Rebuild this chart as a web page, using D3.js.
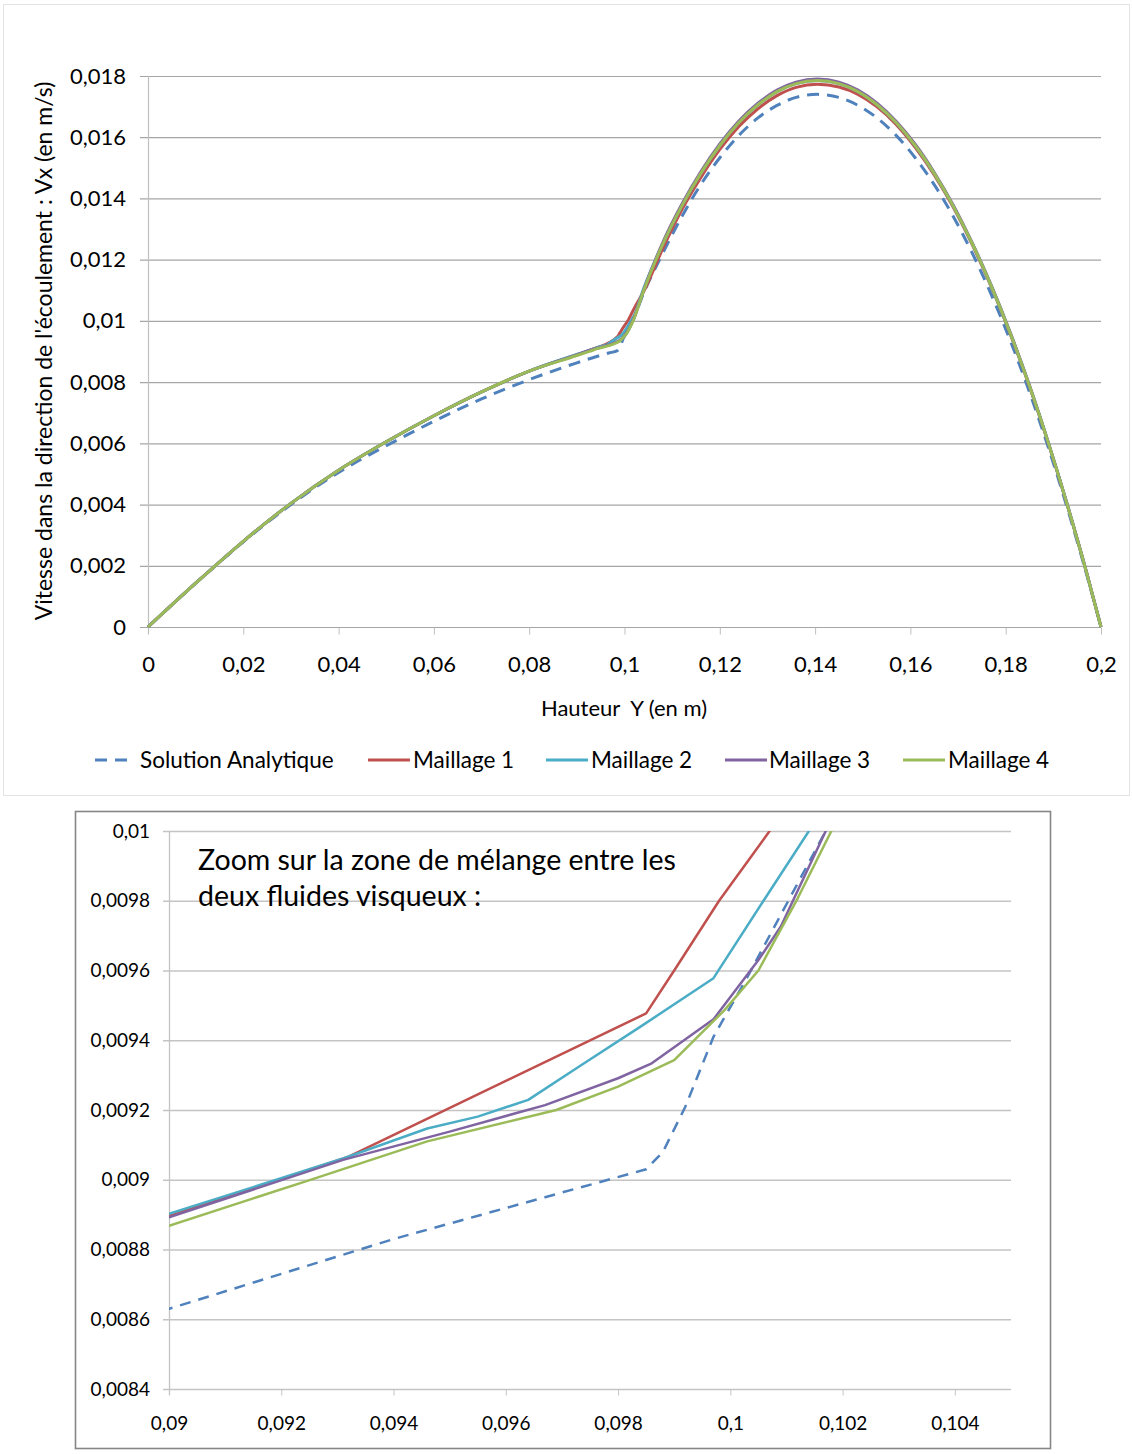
<!DOCTYPE html>
<html><head><meta charset="utf-8">
<script src="https://cdn.jsdelivr.net/npm/d3@7"></script>
<style>
body{margin:0;background:#fff;}
svg text{font-family:Lato,"Open Sans",sans-serif;fill:#000;}
</style></head><body>
<svg id="c" width="1132" height="1454"></svg>
<script>
// ---------- DATA ----------
const seriesNames = ["Solution Analytique","Maillage 1","Maillage 2","Maillage 3","Maillage 4"];
const seriesColors = ["#4F81BD","#C0504D","#4BACC6","#8064A2","#9BBB59"];

const topXTicks = [0,0.02,0.04,0.06,0.08,0.1,0.12,0.14,0.16,0.18,0.2];
const topXLabels = ["0","0,02","0,04","0,06","0,08","0,1","0,12","0,14","0,16","0,18","0,2"];
const topYTicks = [0,0.002,0.004,0.006,0.008,0.01,0.012,0.014,0.016,0.018];
const topYLabels = ["0","0,002","0,004","0,006","0,008","0,01","0,012","0,014","0,016","0,018"];

const zoomXTicks = [0.09,0.092,0.094,0.096,0.098,0.1,0.102,0.104];
const zoomXLabels = ["0,09","0,092","0,094","0,096","0,098","0,1","0,102","0,104"];
const zoomYTicks = [0.0084,0.0086,0.0088,0.009,0.0092,0.0094,0.0096,0.0098,0.01];
const zoomYLabels = ["0,0084","0,0086","0,0088","0,009","0,0092","0,0094","0,0096","0,0098","0,01"];

const analyticX = [0,0.01,0.02,0.03,0.04,0.05,0.06,0.07,0.08,0.09,0.094,0.0967,0.0985,0.0988,0.0992,0.0997,0.1003,0.1008,0.1017,0.104,0.108,0.112,0.116,0.12,0.124,0.128,0.132,0.136,0.1405,0.145,0.149,0.153,0.157,0.161,0.165,0.169,0.173,0.177,0.181,0.185,0.189,0.193,0.197,0.2];
const analyticV = [0,0.00143,0.00278,0.004,0.00505,0.00592,0.00672,0.00745,0.00808,0.00863,0.00883,0.00895,0.00903,0.00908,0.00921,0.00941,0.00958,0.00973,0.01,0.0109,0.0122,0.0134,0.01445,0.01533,0.01606,0.01663,0.01704,0.0173,0.0174,0.0173,0.01704,0.01663,0.01606,0.01533,0.01445,0.01341,0.01221,0.01085,0.00934,0.00767,0.00584,0.00385,0.00171,0];

const meshLowX = [0,0.01,0.02,0.03,0.04,0.05,0.06,0.07,0.08];
const meshLowV = [0,0.00143,0.0028,0.00404,0.00512,0.00605,0.0069,0.00768,0.00836];

const m1X = [0.09,0.0932,0.0985,0.099,0.0998,0.1007,0.102,0.104,0.108,0.112,0.116,0.12,0.124,0.128,0.132,0.136,0.1405,0.145,0.149,0.153,0.157,0.161,0.165,0.169,0.173,0.177,0.181,0.185,0.189,0.193,0.197,0.2];
const m1V = [0.008896,0.009066,0.009477,0.0096,0.0098,0.01,0.0104,0.01095,0.01235,0.01362,0.01468,0.0156,0.01635,0.01693,0.01736,0.01763,0.01773,0.01764,0.0174,0.01699,0.01642,0.01567,0.01477,0.01371,0.01248,0.0111,0.00955,0.00785,0.00598,0.00394,0.00176,0];

const m2X = [0.09,0.0931,0.0946,0.0955,0.0964,0.0973,0.0984,0.0997,0.1006,0.1014,0.102,0.104,0.108,0.112,0.116,0.12,0.124,0.128,0.132,0.136,0.1405,0.145,0.149,0.153,0.157,0.161,0.165,0.169,0.173,0.177,0.181,0.185,0.189,0.193,0.197,0.2];
const m2V = [0.008902,0.009061,0.009147,0.009181,0.009229,0.009324,0.009439,0.009578,0.009802,0.01,0.01016,0.01105,0.0125,0.01375,0.01482,0.01573,0.01648,0.01706,0.01749,0.01775,0.01785,0.01775,0.01749,0.01706,0.01648,0.01573,0.01482,0.01375,0.01252,0.01113,0.00958,0.00787,0.00599,0.00395,0.00176,0];

const m3X = [0.09,0.0931,0.095,0.0967,0.098,0.0986,0.0997,0.1005,0.1009,0.1017,0.102,0.104,0.108,0.112,0.116,0.12,0.124,0.128,0.132,0.136,0.1405,0.145,0.149,0.153,0.157,0.161,0.165,0.169,0.173,0.177,0.181,0.185,0.189,0.193,0.197,0.2];
const m3V = [0.008892,0.009057,0.009138,0.009214,0.009291,0.009334,0.00946,0.00963,0.009726,0.01,0.0101,0.011,0.01255,0.0138,0.01487,0.01578,0.01653,0.01711,0.01754,0.0178,0.0179,0.0178,0.01754,0.01711,0.01652,0.01577,0.01485,0.01378,0.01254,0.01115,0.0096,0.00789,0.006,0.00396,0.00177,0];

const m4X = [0.09,0.0926,0.0946,0.0969,0.098,0.099,0.0999,0.1005,0.1012,0.1018,0.104,0.108,0.112,0.116,0.12,0.124,0.128,0.132,0.136,0.1405,0.145,0.149,0.153,0.157,0.161,0.165,0.169,0.173,0.177,0.181,0.185,0.189,0.193,0.197,0.2];
const m4V = [0.008868,0.009004,0.00911,0.0092,0.009267,0.009343,0.009487,0.0096,0.009807,0.01,0.01098,0.0125,0.01375,0.01482,0.01573,0.01648,0.01706,0.01749,0.01775,0.01785,0.01775,0.01749,0.01706,0.01648,0.01573,0.01482,0.01375,0.01252,0.01113,0.00958,0.00787,0.00599,0.00395,0.00176,0];

// ---------- BUILD ----------
const zip = (xs, vs) => xs.map((x, i) => [x, vs[i]]);
const series = [
  zip(analyticX, analyticV),
  zip(meshLowX.concat(m1X), meshLowV.concat(m1V)),
  zip(meshLowX.concat(m2X), meshLowV.concat(m2V)),
  zip(meshLowX.concat(m3X), meshLowV.concat(m3V)),
  zip(meshLowX.concat(m4X), meshLowV.concat(m4V))
];

const svg = d3.select("#c");
svg.append("rect").attr("width",1132).attr("height",1454).attr("fill","#fff");
svg.append("rect").attr("x",3.5).attr("y",4.5).attr("width",1126).attr("height",791)
  .attr("fill","none").attr("stroke","#e3e3e3").attr("stroke-width",1);

function styleAxis(g, fs){
  g.attr("font-family",null).attr("font-size",fs);
  g.select(".domain").remove();
  g.selectAll(".tick line").attr("stroke","#a6a6a6");
  g.selectAll(".tick text").attr("fill","#000");
}

// ---------- TOP CHART ----------
const xT = d3.scaleLinear().domain([0,0.2]).range([148,1101]);
const yT = d3.scaleLinear().domain([0,0.018]).range([627,76]);
const gTop = svg.append("g");

gTop.append("g").selectAll("line").data(topYTicks).join("line")
  .attr("x1",140).attr("x2",xT(0.2)).attr("y1",d=>yT(d)+0.5).attr("y2",d=>yT(d)+0.5)
  .attr("stroke","#a6a6a6").attr("stroke-width",1.2);
gTop.append("line").attr("x1",xT(0)+0.5).attr("x2",xT(0)+0.5).attr("y1",yT(0.018)).attr("y2",yT(0)+7)
  .attr("stroke","#bfbfbf").attr("stroke-width",1.2);

const yAxT = gTop.append("g").attr("transform",`translate(${xT(0)},0)`)
  .call(d3.axisLeft(yT).tickValues(topYTicks).tickFormat((d,i)=>topYLabels[i]).tickSize(0).tickPadding(22));
styleAxis(yAxT, 22);
const xAxT = gTop.append("g").attr("transform",`translate(0,${yT(0)+0.5})`)
  .call(d3.axisBottom(xT).tickValues(topXTicks).tickFormat((d,i)=>topXLabels[i]).tickSize(7).tickPadding(22).tickSizeOuter(0));
styleAxis(xAxT, 22);
xAxT.selectAll(".tick line").attr("stroke","#bfbfbf");

const lineT = d3.line().x(d=>xT(d[0])).y(d=>yT(d[1])).curve(d3.curveMonotoneX);
series.forEach((s,i)=>{
  gTop.append("path").attr("d",lineT(s)).attr("fill","none")
    .attr("stroke",seriesColors[i]).attr("stroke-width",3)
    .attr("stroke-linejoin","round")
    .attr("stroke-dasharray", i===0 ? "12,8" : null);
});

gTop.append("text").attr("x",624).attr("y",716).attr("text-anchor","middle")
  .attr("font-size",22).style("white-space","pre").text("Hauteur  Y (en m)");
gTop.append("text").attr("transform","translate(52,351) rotate(-90)").attr("text-anchor","middle")
  .attr("font-size",23).text("Vitesse dans la direction de l'écoulement : Vx (en m/s)");

// legend
const legLineX = [[95,131],[368,410],[546,588],[725,767],[903,945]];
const legTextX = [140,413,591,769,948];
const leg = gTop.append("g");
seriesNames.forEach((n,i)=>{
  leg.append("line").attr("x1",legLineX[i][0]).attr("x2",legLineX[i][1]).attr("y1",760).attr("y2",760)
    .attr("stroke",seriesColors[i]).attr("stroke-width",3)
    .attr("stroke-dasharray", i===0 ? "12,8" : null);
  leg.append("text").attr("x",legTextX[i]).attr("y",768).attr("font-size",22.5).text(n);
});

// ---------- ZOOM CHART ----------
svg.append("rect").attr("x",75.5).attr("y",811.5).attr("width",975).attr("height",637)
  .attr("fill","#fff").attr("stroke","#868686").attr("stroke-width",1.6);

const xB = d3.scaleLinear().domain([0.09,0.105]).range([169,1011]);
const yB = d3.scaleLinear().domain([0.0084,0.01]).range([1389,831]);
const gBot = svg.append("g");

gBot.append("g").selectAll("line").data(zoomYTicks).join("line")
  .attr("x1",163).attr("x2",xB(0.105)).attr("y1",d=>yB(d)+0.5).attr("y2",d=>yB(d)+0.5)
  .attr("stroke","#c4c4c4").attr("stroke-width",1.3);
gBot.append("line").attr("x1",xB(0.09)+0.5).attr("x2",xB(0.09)+0.5).attr("y1",yB(0.01)).attr("y2",yB(0.0084)+6)
  .attr("stroke","#c4c4c4").attr("stroke-width",1.3);

const yAxB = gBot.append("g").attr("transform",`translate(${xB(0.09)},0)`)
  .call(d3.axisLeft(yB).tickValues(zoomYTicks).tickFormat((d,i)=>zoomYLabels[i]).tickSize(0).tickPadding(19));
styleAxis(yAxB, 19);
const xAxB = gBot.append("g").attr("transform",`translate(0,${yB(0.0084)+0.5})`)
  .call(d3.axisBottom(xB).tickValues(zoomXTicks).tickFormat((d,i)=>zoomXLabels[i]).tickSize(6).tickPadding(21).tickSizeOuter(0));
styleAxis(xAxB, 19);
xAxB.selectAll(".tick line").attr("stroke","#c4c4c4");

svg.append("defs").append("clipPath").attr("id","clipB").append("rect")
  .attr("x",xB(0.09)).attr("y",yB(0.01)).attr("width",xB(0.105)-xB(0.09)).attr("height",yB(0.0084)-yB(0.01));

const lineB = d3.line().x(d=>xB(d[0])).y(d=>yB(d[1])).curve(d3.curveLinear);
const gl = gBot.append("g").attr("clip-path","url(#clipB)");
series.forEach((s,i)=>{
  gl.append("path").attr("d",lineB(s)).attr("fill","none")
    .attr("stroke",seriesColors[i]).attr("stroke-width",2.5)
    .attr("stroke-linejoin","round")
    .attr("stroke-dasharray", i===0 ? "11,8" : null);
});

gBot.append("text").attr("x",198).attr("y",870).attr("font-size",28.5).text("Zoom sur la zone de mélange entre les");
gBot.append("text").attr("x",198).attr("y",906).attr("font-size",28.5).text("deux fluides visqueux :");
</script></body></html>
